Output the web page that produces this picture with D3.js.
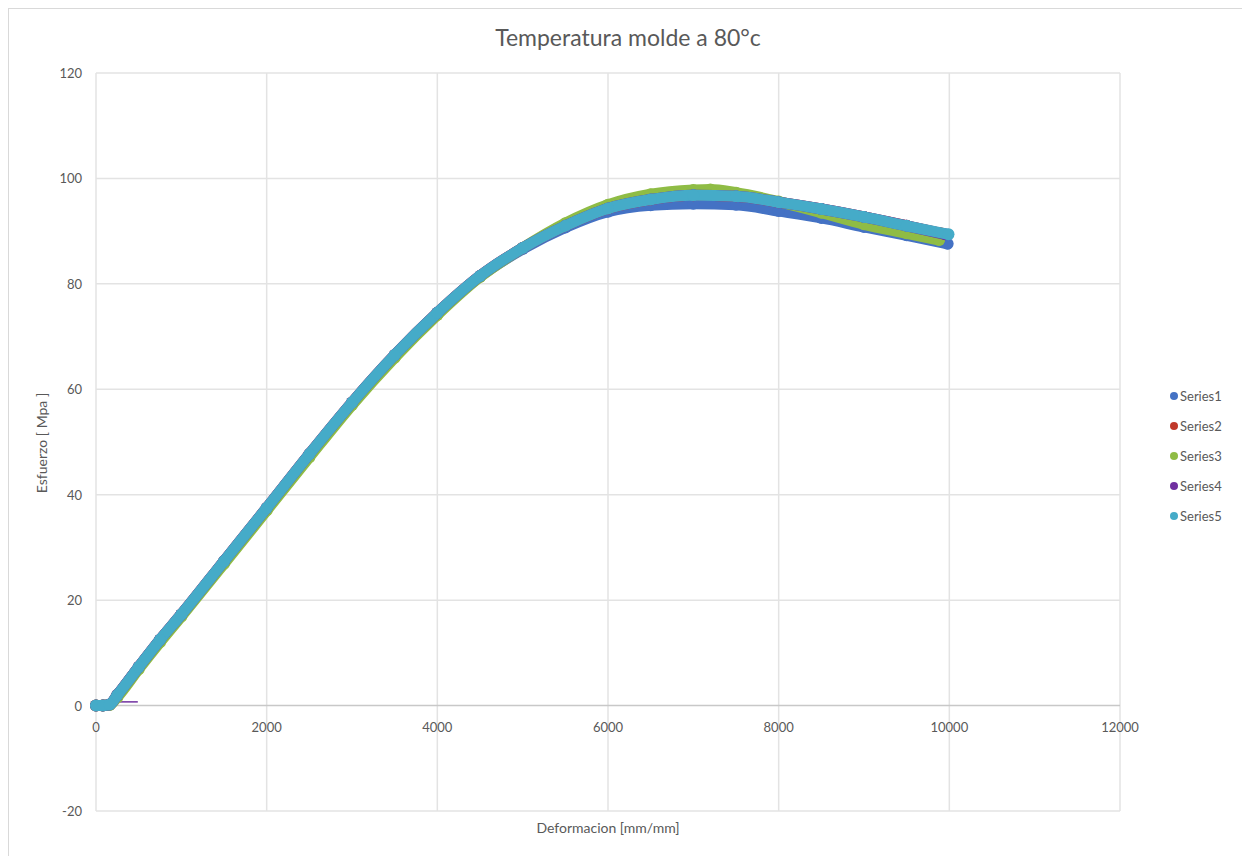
<!DOCTYPE html>
<html>
<meta charset="utf-8">
<head>
<script src="https://d3js.org/d3.v7.min.js"></script>
<style>
  body { margin: 0; background: #fff; }
  text { font-family: Lato, "Open Sans", sans-serif; fill: #595959; }
</style>
</head>
<body>
<div id="chart"></div>
<script>
// strain values [mm/mm] and stress [Mpa] per series
var strain1 = [0, 80, 160, 250, 500, 750, 1000, 1500, 2000, 2500, 3000, 3500, 4000, 4500, 5000, 5500, 6000, 6500, 7000, 7500, 8000, 8500, 9000, 9500, 9980]
var stress1 = [0, 0, 0.2, 2, 7.3, 12.4, 17.2, 27.3, 37.4, 47.6, 57.4, 66.4, 74.4, 81.4, 86.6, 90.7, 93.7, 94.9, 95.2, 95.0, 93.8, 92.5, 90.8, 89.2, 87.6]

var strain2 = [0, 80, 160, 250, 500, 750, 1000, 1500, 2000, 2500, 3000, 3500, 4000, 4500, 5000, 5500, 6000, 6500, 7000, 7500, 8000, 8500, 9000, 9500, 9900]
var stress2 = [0, 0, 0.2, 2, 7.3, 12.5, 17.3, 27.4, 37.5, 47.7, 57.5, 66.5, 74.5, 81.5, 86.8, 91.0, 94.3, 96.0, 96.8, 96.6, 95.5, 94.2, 92.7, 91.0, 89.6]

var strain3 = [0, 80, 160, 250, 500, 750, 1000, 1500, 2000, 2500, 3000, 3500, 4000, 4500, 5000, 5500, 6000, 6500, 7000, 7200, 7500, 8000, 8500, 9000, 9500, 9880]
var stress3 = [0, 0, 0.1, 1.6, 6.9, 12.0, 16.9, 26.9, 37.0, 47.1, 57.0, 66.0, 74.1, 81.3, 86.8, 91.5, 95.0, 97.0, 97.8, 97.9, 97.3, 95.6, 93.5, 91.3, 89.6, 88.3]

// Series4 low start (thin tail near zero) and main branch
var strain4tail = [150, 490]
var stress4tail = [0.7, 0.7]
var strain4 = [0, 80, 160, 250, 500, 750, 1000, 1500, 2000, 2500, 3000, 3500, 4000, 4500, 5000, 5500, 6000, 6500, 7000, 7500, 8000, 8500, 9000, 9500, 9950]
var stress4 = [0, 0, 0.2, 2, 7.3, 12.5, 17.3, 27.4, 37.5, 47.7, 57.5, 66.5, 74.5, 81.5, 86.8, 91.0, 94.3, 96.0, 96.8, 96.6, 95.5, 94.2, 92.7, 91.0, 89.4]

var strain5 = [0, 80, 160, 250, 500, 750, 1000, 1500, 2000, 2500, 3000, 3500, 4000, 4500, 5000, 5500, 6000, 6500, 7000, 7500, 8000, 8500, 9000, 9500, 9990]
var stress5 = [0, 0, 0.2, 2, 7.3, 12.5, 17.3, 27.4, 37.5, 47.7, 57.5, 66.5, 74.5, 81.5, 86.8, 91.0, 94.3, 96.0, 96.8, 96.6, 95.5, 94.2, 92.7, 91.0, 89.4]

var seriesNames = ["Series1", "Series2", "Series3", "Series4", "Series5"]
var seriesColors = ["#4472c4", "#c0392b", "#8fbc45", "#7030a0", "#45abc8"]
var xTicks = [0, 2000, 4000, 6000, 8000, 10000, 12000]
var yTicks = [-20, 0, 20, 40, 60, 80, 100, 120]

var allStrain = [strain1, strain2, strain3, strain4, strain5]
var allStress = [stress1, stress2, stress3, stress4, stress5]

var W = 1242, H = 856
var svg = d3.select("#chart").append("svg").attr("width", W).attr("height", H)

// chart frame
svg.append("rect").attr("x", 8.5).attr("y", 8.5).attr("width", 1260).attr("height", 870)
  .attr("fill", "none").attr("stroke", "#d9d9d9")

var x = d3.scaleLinear().domain([0, 12000]).range([96, 1120])
var y = d3.scaleLinear().domain([-20, 120]).range([811, 73])

// gridlines
svg.append("g").selectAll("line.v").data(xTicks).enter().append("line")
  .attr("x1", function(d){ return x(d) }).attr("x2", function(d){ return x(d) })
  .attr("y1", y(120)).attr("y2", y(-20))
  .attr("stroke", "#e3e3e3").attr("stroke-width", 1.5)
svg.append("g").selectAll("line.h").data(yTicks).enter().append("line")
  .attr("x1", x(0)).attr("x2", x(12000))
  .attr("y1", function(d){ return y(d) }).attr("y2", function(d){ return y(d) })
  .attr("stroke", function(d){ return d == 0 ? "#c8c8c8" : "#e3e3e3" })
  .attr("stroke-width", 1.5)

// tick labels
svg.append("g").selectAll("text").data(yTicks).enter().append("text")
  .attr("x", 82).attr("y", function(d){ return y(d) + 5 })
  .attr("text-anchor", "end").style("font-size", "13px")
  .text(function(d){ return d })
svg.append("g").selectAll("text").data(xTicks).enter().append("text")
  .attr("x", function(d){ return x(d) }).attr("y", y(0) + 26)
  .attr("text-anchor", "middle").style("font-size", "13px")
  .text(function(d){ return d })

// series: dense markers look like a thick line
var line = d3.line().curve(d3.curveMonotoneX)
  .x(function(d){ return x(d[0]) }).y(function(d){ return y(d[1]) })

svg.append("path").datum(d3.zip(strain4tail, stress4tail)).attr("d", line)
  .attr("fill", "none").attr("stroke", seriesColors[3]).attr("stroke-width", 1.5)

seriesNames.forEach(function(name, i) {
  var pts = d3.zip(allStrain[i], allStress[i])
  var g = svg.append("g")
  g.append("path").datum(pts).attr("d", line)
    .attr("fill", "none").attr("stroke", seriesColors[i])
    .attr("stroke-width", 11).attr("stroke-linecap", "round").attr("stroke-linejoin", "round")
  g.selectAll("circle").data(pts).enter().append("circle")
    .attr("cx", function(d){ return x(d[0]) }).attr("cy", function(d){ return y(d[1]) })
    .attr("r", 6).attr("fill", seriesColors[i])
})

// titles
svg.append("text").attr("x", 628).attr("y", 46).attr("text-anchor", "middle")
  .style("font-size", "23px").text("Temperatura molde a 80°c")
svg.append("text").attr("x", 608).attr("y", 833).attr("text-anchor", "middle")
  .style("font-size", "14px").text("Deformacion [mm/mm]")
svg.append("text").attr("transform", "translate(47,443) rotate(-90)").attr("text-anchor", "middle")
  .style("font-size", "14px").text("Esfuerzo [ Mpa ]")

// legend
var leg = svg.append("g").selectAll("g").data(seriesNames).enter().append("g")
  .attr("transform", function(d, i){ return "translate(1174," + (396 + i * 30) + ")" })
leg.append("circle").attr("r", 4).attr("fill", function(d, i){ return seriesColors[i] })
leg.append("text").attr("x", 6).attr("y", 5).style("font-size", "13px").text(function(d){ return d })
</script>
</body>
</html>
